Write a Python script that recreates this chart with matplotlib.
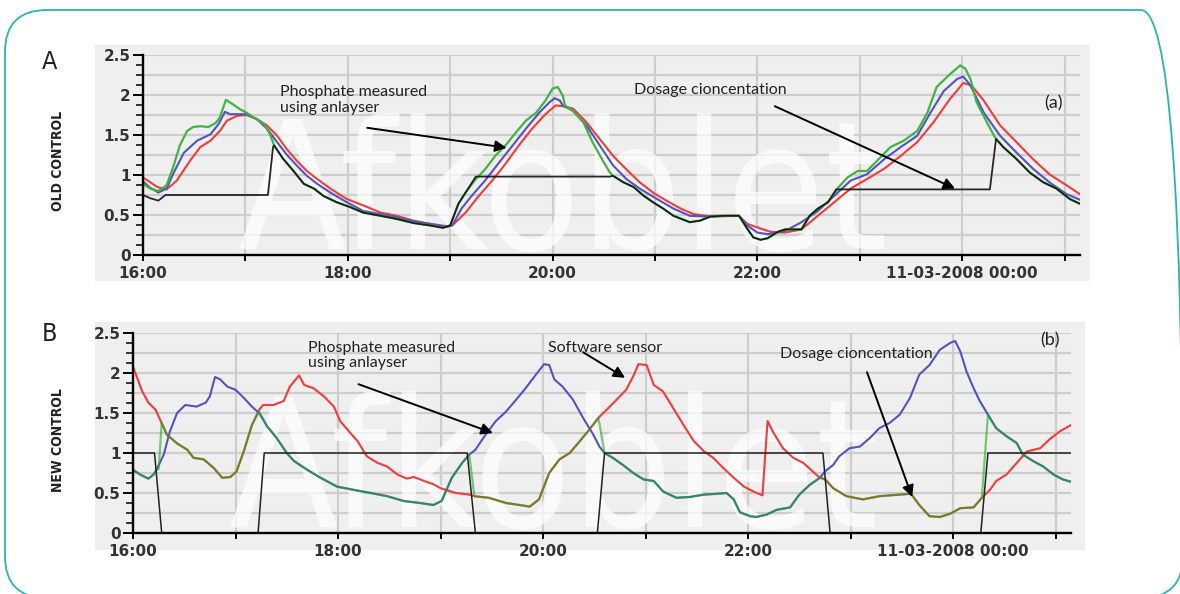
import matplotlib
matplotlib.use("Agg")
import matplotlib.pyplot as plt
from matplotlib.patches import FancyBboxPatch, Rectangle
from matplotlib.transforms import IdentityTransform
from matplotlib import font_manager as fm

# ---------------- data (hours after 16:00) ----------------
x_tick_pos = [0, 1, 2, 3, 4, 5, 6, 7, 8, 9]
x_tick_labels = ["16:00", "", "18:00", "", "20:00", "", "22:00", "", "11-03-2008 00:00", ""]
y_tick_pos = [0, 0.5, 1, 1.5, 2, 2.5]
y_tick_labels = ["0", "0.5", "1", "1.5", "2", "2.5"]

# Panel A (old control)
a_green_t = [0.00, 0.07, 0.15, 0.23, 0.30, 0.36, 0.43, 0.49, 0.56, 0.64, 0.71, 0.75, 0.81, 0.87, 0.95,
             1.01, 1.08, 1.18, 1.24, 1.28, 1.37, 1.47, 1.57, 1.67, 1.76, 1.89, 2.02, 2.15, 2.32, 2.48,
             2.64, 2.80, 2.93, 3.00, 3.08, 3.15, 3.25, 3.34, 3.44, 3.54, 3.64, 3.74, 3.84, 3.93, 4.00,
             4.05, 4.10, 4.12, 4.20, 4.30, 4.39, 4.49, 4.56, 4.59, 4.69, 4.79, 4.89, 4.98, 5.08, 5.18,
             5.34, 5.44, 5.54, 5.67, 5.82, 5.90, 5.96, 6.03, 6.10, 6.20, 6.27, 6.43, 6.51, 6.59, 6.69,
             6.78, 6.88, 6.98, 7.07, 7.17, 7.30, 7.43, 7.56, 7.66, 7.75, 7.88, 7.98, 8.03, 8.08, 8.14,
             8.24, 8.32, 8.40, 8.53, 8.66, 8.79, 8.92, 9.05, 9.15]
a_green_v = [0.89, 0.83, 0.80, 0.87, 1.12, 1.37, 1.55, 1.60, 1.61, 1.60, 1.65, 1.72, 1.94, 1.89, 1.82,
             1.78, 1.72, 1.64, 1.51, 1.37, 1.20, 1.05, 0.89, 0.83, 0.74, 0.66, 0.60, 0.53, 0.49, 0.45,
             0.40, 0.37, 0.34, 0.37, 0.64, 0.78, 0.95, 1.07, 1.24, 1.37, 1.53, 1.68, 1.78, 1.93, 2.08,
             2.10, 1.99, 1.87, 1.80, 1.66, 1.41, 1.18, 1.03, 0.99, 0.91, 0.85, 0.74, 0.66, 0.58, 0.49,
             0.41, 0.43, 0.48, 0.49, 0.49, 0.33, 0.22, 0.19, 0.21, 0.29, 0.32, 0.32, 0.49, 0.58, 0.66,
             0.83, 0.97, 1.05, 1.05, 1.18, 1.35, 1.43, 1.55, 1.78, 2.10, 2.26, 2.37, 2.33, 2.20, 1.91,
             1.66, 1.47, 1.35, 1.20, 1.03, 0.91, 0.83, 0.70, 0.64]

a_blue_t = [0.00, 0.07, 0.15, 0.23, 0.30, 0.40, 0.53, 0.66, 0.74, 0.80, 0.85, 0.95, 1.01, 1.11, 1.21,
            1.31, 1.40, 1.50, 1.60, 1.70, 1.83, 1.99, 2.15, 2.32, 2.48, 2.64, 2.80, 2.97, 3.02, 3.11,
            3.21, 3.34, 3.48, 3.61, 3.74, 3.87, 3.97, 4.02, 4.07, 4.10, 4.20, 4.33, 4.46, 4.59, 4.72,
            4.85, 5.02, 5.18, 5.34, 5.51, 5.82, 5.90, 6.00, 6.10, 6.27, 6.43, 6.59, 6.75, 6.91, 7.07,
            7.24, 7.40, 7.56, 7.69, 7.82, 7.95, 8.01, 8.08, 8.21, 8.37, 8.53, 8.69, 8.85, 9.02, 9.15]
a_blue_v = [0.92, 0.84, 0.78, 0.83, 1.03, 1.28, 1.43, 1.51, 1.64, 1.79, 1.76, 1.76, 1.76, 1.70, 1.58,
            1.41, 1.26, 1.12, 0.99, 0.89, 0.78, 0.66, 0.55, 0.51, 0.47, 0.42, 0.39, 0.35, 0.37, 0.58,
            0.74, 0.93, 1.16, 1.37, 1.58, 1.78, 1.91, 1.96, 1.93, 1.87, 1.80, 1.62, 1.37, 1.12, 0.95,
            0.83, 0.70, 0.58, 0.49, 0.48, 0.49, 0.37, 0.28, 0.26, 0.30, 0.41, 0.55, 0.74, 0.93, 1.01,
            1.20, 1.35, 1.49, 1.78, 2.05, 2.20, 2.23, 2.12, 1.78, 1.49, 1.28, 1.08, 0.91, 0.76, 0.69]

a_red_t = [0.00, 0.14, 0.23, 0.33, 0.46, 0.56, 0.66, 0.75, 0.82, 0.92, 1.01, 1.11, 1.21, 1.31, 1.40,
           1.50, 1.60, 1.70, 1.83, 1.99, 2.15, 2.32, 2.48, 2.64, 2.80, 2.97, 3.02, 3.15, 3.28, 3.41,
           3.54, 3.67, 3.80, 3.93, 4.03, 4.10, 4.20, 4.33, 4.46, 4.59, 4.72, 4.85, 4.98, 5.11, 5.25,
           5.38, 5.51, 5.82, 5.90, 6.03, 6.13, 6.27, 6.43, 6.59, 6.75, 6.91, 7.07, 7.24, 7.40, 7.56,
           7.72, 7.88, 8.01, 8.09, 8.21, 8.37, 8.53, 8.69, 8.85, 9.02, 9.15]
a_red_v = [0.97, 0.85, 0.82, 0.93, 1.18, 1.35, 1.43, 1.55, 1.68, 1.74, 1.75, 1.70, 1.62, 1.49, 1.33,
           1.18, 1.05, 0.95, 0.83, 0.70, 0.62, 0.53, 0.49, 0.43, 0.39, 0.36, 0.37, 0.53, 0.74, 0.93,
           1.14, 1.37, 1.58, 1.76, 1.87, 1.86, 1.83, 1.66, 1.45, 1.24, 1.07, 0.91, 0.78, 0.68, 0.58,
           0.51, 0.49, 0.49, 0.39, 0.33, 0.29, 0.28, 0.32, 0.49, 0.66, 0.83, 0.95, 1.08, 1.24, 1.41,
           1.66, 1.95, 2.15, 2.12, 1.93, 1.62, 1.41, 1.20, 1.01, 0.87, 0.76]

a_black_t = [0.00, 0.07, 0.15, 0.22, 1.22, 1.27, 1.28, 1.37, 1.47, 1.57, 1.67, 1.76, 1.89, 2.02, 2.15,
             2.32, 2.48, 2.64, 2.80, 2.93, 3.00, 3.08, 3.15, 3.25, 4.56, 4.59, 4.69, 4.79, 4.89, 4.98,
             5.08, 5.18, 5.34, 5.44, 5.54, 5.67, 5.82, 5.90, 5.96, 6.03, 6.10, 6.20, 6.27, 6.43, 6.51,
             6.59, 6.69, 6.77, 8.27, 8.33, 8.40, 8.53, 8.66, 8.79, 8.92, 9.05, 9.15]
a_black_v = [0.75, 0.71, 0.68, 0.75, 0.75, 1.35, 1.37, 1.20, 1.05, 0.89, 0.83, 0.74, 0.66, 0.60, 0.53,
             0.49, 0.45, 0.40, 0.37, 0.34, 0.37, 0.64, 0.78, 0.98, 0.98, 0.99, 0.91, 0.85, 0.74, 0.66,
             0.58, 0.49, 0.41, 0.43, 0.48, 0.49, 0.49, 0.33, 0.22, 0.19, 0.21, 0.29, 0.32, 0.32, 0.49,
             0.58, 0.66, 0.82, 0.82, 1.45, 1.35, 1.20, 1.03, 0.91, 0.83, 0.70, 0.64]

# Panel B (new control)
b_blue_t = [0.00, 0.07, 0.15, 0.20, 0.23, 0.30, 0.36, 0.43, 0.51, 0.62, 0.71, 0.75, 0.80, 0.85, 0.92,
            1.00, 1.08, 1.16, 1.23, 1.31, 1.40, 1.50, 1.57, 1.70, 1.83, 1.99, 2.15, 2.32, 2.48, 2.64,
            2.80, 2.93, 3.01, 3.11, 3.21, 3.28, 3.34, 3.44, 3.54, 3.64, 3.74, 3.83, 3.93, 4.01, 4.06,
            4.11, 4.19, 4.29, 4.39, 4.49, 4.55, 4.60, 4.68, 4.78, 4.88, 4.98, 5.08, 5.17, 5.30, 5.43,
            5.57, 5.70, 5.79, 5.86, 5.92, 6.02, 6.08, 6.18, 6.28, 6.41, 6.50, 6.60, 6.70, 6.75, 6.83,
            6.89, 6.99, 7.09, 7.19, 7.28, 7.38, 7.48, 7.58, 7.67, 7.77, 7.87, 7.97, 8.02, 8.07, 8.13,
            8.20, 8.26, 8.34, 8.42, 8.52, 8.62, 8.68, 8.78, 8.88, 8.98, 9.07, 9.15]
b_blue_v = [0.79, 0.73, 0.68, 0.73, 0.79, 0.98, 1.27, 1.50, 1.60, 1.58, 1.63, 1.71, 1.95, 1.92, 1.83,
            1.79, 1.69, 1.58, 1.50, 1.33, 1.19, 1.00, 0.90, 0.79, 0.69, 0.58, 0.54, 0.50, 0.46, 0.40,
            0.375, 0.35, 0.40, 0.69, 0.875, 0.98, 1.04, 1.23, 1.40, 1.52, 1.67, 1.81, 1.98, 2.11, 2.10,
            1.92, 1.83, 1.67, 1.44, 1.23, 1.08, 1.00, 0.94, 0.85, 0.75, 0.67, 0.65, 0.52, 0.44, 0.45,
            0.48, 0.49, 0.50, 0.42, 0.26, 0.21, 0.20, 0.23, 0.29, 0.32, 0.48, 0.60, 0.69, 0.77, 0.85,
            0.96, 1.06, 1.08, 1.19, 1.31, 1.375, 1.48, 1.69, 1.98, 2.10, 2.29, 2.375, 2.40, 2.27, 2.02,
            1.81, 1.65, 1.48, 1.31, 1.21, 1.125, 0.98, 0.90, 0.83, 0.73, 0.67, 0.64]

b_red_t = [0.00, 0.04, 0.09, 0.15, 0.22, 0.27, 0.33, 0.43, 0.53, 0.59, 0.69, 0.79, 0.87, 0.95, 1.01,
           1.08, 1.16, 1.23, 1.27, 1.37, 1.47, 1.53, 1.62, 1.67, 1.76, 1.86, 1.96, 2.02, 2.12, 2.19,
           2.28, 2.38, 2.48, 2.58, 2.67, 2.74, 2.84, 2.93, 3.00, 3.15, 3.28, 3.33, 3.47, 3.64, 3.77,
           3.87, 3.96, 4.06, 4.16, 4.26, 4.36, 4.45, 4.54, 4.62, 4.72, 4.81, 4.88, 4.93, 5.01, 5.08,
           5.17, 5.27, 5.37, 5.47, 5.57, 5.66, 5.76, 5.86, 5.96, 6.05, 6.14, 6.19, 6.24, 6.34, 6.44,
           6.54, 6.63, 6.70, 6.75, 6.83, 6.96, 7.12, 7.28, 7.48, 7.59, 7.67, 7.77, 7.87, 7.97, 8.07,
           8.20, 8.28, 8.36, 8.42, 8.52, 8.62, 8.72, 8.85, 8.94, 9.04, 9.15]
b_red_v = [2.08, 1.94, 1.77, 1.63, 1.54, 1.40, 1.23, 1.12, 1.04, 0.94, 0.92, 0.81, 0.69, 0.70, 0.77,
           1.02, 1.35, 1.54, 1.60, 1.60, 1.65, 1.83, 1.97, 1.85, 1.81, 1.71, 1.58, 1.40, 1.25, 1.15,
           0.96, 0.88, 0.83, 0.73, 0.68, 0.70, 0.65, 0.61, 0.56, 0.50, 0.48, 0.46, 0.44, 0.375, 0.35,
           0.33, 0.42, 0.75, 0.92, 1.00, 1.15, 1.29, 1.44, 1.54, 1.67, 1.79, 1.96, 2.11, 2.10, 1.85,
           1.77, 1.56, 1.35, 1.15, 1.02, 0.94, 0.81, 0.69, 0.58, 0.52, 0.47, 1.40, 1.27, 1.06, 0.94,
           0.875, 0.77, 0.69, 0.67, 0.56, 0.46, 0.42, 0.46, 0.48, 0.49, 0.35, 0.21, 0.20, 0.24, 0.31,
           0.32, 0.44, 0.54, 0.65, 0.73, 0.875, 1.02, 1.06, 1.17, 1.27, 1.35]

b_green_t = [0.00, 0.07, 0.15, 0.20, 0.23, 0.25, 0.28, 0.33, 0.43, 0.53, 0.59, 0.69, 0.79, 0.87, 0.95,
             1.01, 1.08, 1.16, 1.23, 1.31, 1.40, 1.50, 1.57, 1.70, 1.83, 1.99, 2.15, 2.32, 2.48, 2.64,
             2.80, 2.93, 3.01, 3.11, 3.21, 3.28, 3.33, 3.47, 3.64, 3.77, 3.87, 3.96, 4.06, 4.16, 4.26,
             4.36, 4.45, 4.54, 4.60, 4.68, 4.78, 4.88, 4.98, 5.08, 5.17, 5.30, 5.43, 5.57, 5.70, 5.79,
             5.86, 5.92, 6.02, 6.08, 6.18, 6.28, 6.41, 6.50, 6.60, 6.70, 6.75, 6.83, 6.96, 7.12, 7.28,
             7.48, 7.59, 7.67, 7.77, 7.87, 7.97, 8.07, 8.20, 8.28, 8.34, 8.42, 8.52, 8.62, 8.68, 8.78,
             8.88, 8.98, 9.07, 9.15]
b_green_v = [0.79, 0.73, 0.68, 0.73, 0.79, 0.80, 1.38, 1.23, 1.12, 1.04, 0.94, 0.92, 0.81, 0.69, 0.70,
             0.77, 1.02, 1.35, 1.52, 1.33, 1.19, 1.00, 0.90, 0.79, 0.69, 0.58, 0.54, 0.50, 0.46, 0.40,
             0.375, 0.35, 0.40, 0.69, 0.875, 0.98, 0.46, 0.44, 0.375, 0.35, 0.33, 0.42, 0.75, 0.92, 1.00,
             1.15, 1.29, 1.44, 1.00, 0.94, 0.85, 0.75, 0.67, 0.65, 0.52, 0.44, 0.45, 0.48, 0.49, 0.50,
             0.42, 0.26, 0.21, 0.20, 0.23, 0.29, 0.32, 0.48, 0.60, 0.69, 0.68, 0.56, 0.46, 0.42, 0.46,
             0.48, 0.49, 0.35, 0.21, 0.20, 0.24, 0.31, 0.32, 0.44, 1.48, 1.31, 1.21, 1.125, 0.98, 0.90,
             0.83, 0.73, 0.67, 0.64]

b_dose_t = [0.00, 0.21, 0.28, 1.22, 1.28, 3.26, 3.34, 4.53, 4.60, 6.73, 6.80, 8.27, 8.34, 9.15]
b_dose_v = [1, 1, 0, 0, 1, 1, 0, 0, 1, 1, 0, 0, 1, 1]

# ---------------- styling ----------------
W, H = 1180, 594
C_GREEN = "#3fb43f"
C_BLUE = "#5252c4"
C_RED = "#f23c3c"
BG = "#efefef"
GRID = "#cdcdcd"


def has_font(name):
    try:
        fm.findfont(fm.FontProperties(family=name), fallback_to_default=False)
        return True
    except Exception:
        return False


ANNO = "Lato" if has_font("Lato") else "DejaVu Sans"

fig = plt.figure(figsize=(W / 100, H / 100), dpi=100)
ident = IdentityTransform()

# grey chart panels and teal frame (pixel coordinates, origin bottom-left)
fig.add_artist(Rectangle((95, H - 281), 995, 236, transform=ident, fc=BG, ec="none", zorder=-10))
fig.add_artist(Rectangle((95, H - 550), 990, 228, transform=ident, fc=BG, ec="none", zorder=-10))
fig.add_artist(FancyBboxPatch((5, -4), 1178, 588, boxstyle="round,pad=0,rounding_size=42",
                              transform=ident, fill=False, ec="#2cb3ad", lw=1.3, zorder=5))


def ax_rect(x0, x1, ytop, ybot):
    return [x0 / W, 1 - ybot / H, (x1 - x0) / W, (ybot - ytop) / H]


axA = fig.add_axes(ax_rect(143, 1080, 55, 255))
axB = fig.add_axes(ax_rect(133, 1071, 333, 533))

grid_y = [0.25, 0.5, 0.75, 1.0, 1.25, 1.5, 1.75, 2.0, 2.25, 2.5]
minor_y = [i * 0.125 for i in range(21)]

for ax in (axA, axB):
    ax.set_facecolor("none")
    ax.set_xlim(0, 9.15)
    ax.set_ylim(0, 2.5)
    ax.set_xticks(x_tick_pos)
    ax.set_xticklabels(x_tick_labels)
    ax.set_yticks(y_tick_pos)
    ax.set_yticklabels(y_tick_labels)
    ax.set_yticks(minor_y, minor=True)
    ax.set_axisbelow(True)
    ax.xaxis.grid(True, color=GRID, lw=1.6, zorder=0)
    ax.hlines(grid_y, 0, 1, transform=ax.get_yaxis_transform(), color=GRID, lw=1.6, zorder=0.5)
    for s in ("top", "right"):
        ax.spines[s].set_visible(False)
    for s in ("left", "bottom"):
        ax.spines[s].set_linewidth(1.7)
        ax.spines[s].set_color("black")
        ax.spines[s].set_zorder(6)
    ax.tick_params(axis="x", which="major", length=4, width=1.4, pad=4,
                   labelsize=11, labelcolor="#333333")
    ax.tick_params(axis="y", which="major", length=7, width=1.4, pad=2,
                   labelsize=11, labelcolor="#333333")
    ax.tick_params(axis="y", which="minor", length=5, width=1.1)
    for lab in ax.get_xticklabels() + ax.get_yticklabels():
        lab.set_fontweight("bold")
        lab.set_family("DejaVu Sans")
    # watermark
    ax.text(0.93, 0.07, "Afkoblet", fontsize=128, family="DejaVu Sans", fontstretch="condensed",
            color="white", alpha=0.72, ha="left", va="baseline", zorder=1, clip_on=True)

# Panel A lines
axA.plot(a_red_t, a_red_v, color=C_RED, lw=1.5, zorder=3)
axA.plot(a_blue_t, a_blue_v, color=C_BLUE, lw=1.5, zorder=3.2)
axA.plot(a_green_t, a_green_v, color=C_GREEN, lw=1.6, zorder=3.4)
axA.plot(a_black_t, a_black_v, color="#111111", lw=1.3, alpha=0.9, zorder=3.6)

# Panel B lines
axB.plot(b_red_t, b_red_v, color=C_RED, lw=1.5, zorder=3)
axB.plot(b_blue_t, b_blue_v, color=C_BLUE, lw=1.5, zorder=3.2)
axB.plot(b_green_t, b_green_v, color="#22aa22", lw=1.6, alpha=0.6, zorder=3.4)
axB.plot(b_dose_t, b_dose_v, color="#222222", lw=1.1, zorder=3.6)

arrow = dict(arrowstyle="-|>", color="black", lw=1.4, mutation_scale=17, shrinkA=0, shrinkB=0)
tkw = dict(family=ANNO, fontsize=11.5, color="#222222", zorder=7)

# Panel A annotations
axA.text(1.34, 1.94, "Phosphate measured\nusing anlayser", ha="left", va="center", linespacing=1.15, **tkw)
axA.annotate("", xy=(3.55, 1.34), xytext=(2.19, 1.59), arrowprops=arrow, zorder=7)
axA.text(4.79, 2.06, "Dosage cioncentation", ha="left", va="center", **tkw)
axA.annotate("", xy=(7.93, 0.83), xytext=(6.17, 1.86), arrowprops=arrow, zorder=7)
axA.text(8.89, 1.90, "(a)", ha="center", va="center", family=ANNO, fontsize=13, color="#222222")

# Panel B annotations
axB.text(1.71, 2.22, "Phosphate measured\nusing anlayser", ha="left", va="center", linespacing=1.15, **tkw)
axB.annotate("", xy=(3.51, 1.25), xytext=(2.20, 1.86), arrowprops=arrow, zorder=7)
axB.text(4.05, 2.31, "Software sensor", ha="left", va="center", **tkw)
axB.annotate("", xy=(4.80, 1.94), xytext=(4.39, 2.26), arrowprops=arrow, zorder=7)
axB.text(6.31, 2.24, "Dosage cioncentation", ha="left", va="center", **tkw)
axB.annotate("", xy=(7.60, 0.45), xytext=(7.16, 2.01), arrowprops=arrow, zorder=7)
axB.text(8.95, 2.41, "(b)", ha="center", va="center", family=ANNO, fontsize=13, color="#222222")

# Panel letters and side labels
side = dict(family="DejaVu Sans", fontstretch="condensed", color="#222222", ha="center", va="center")
fig.text(50 / W, 1 - 62 / H, "A", fontsize=18, **side)
fig.text(50 / W, 1 - 334 / H, "B", fontsize=18, **side)
fig.text(58 / W, 1 - 161 / H, "OLD CONTROL", fontsize=10, fontweight="bold", rotation=90, **side)
fig.text(58 / W, 1 - 440 / H, "NEW CONTROL", fontsize=10, fontweight="bold", rotation=90, **side)

fig.savefig("out.png", dpi=100, facecolor="white")
